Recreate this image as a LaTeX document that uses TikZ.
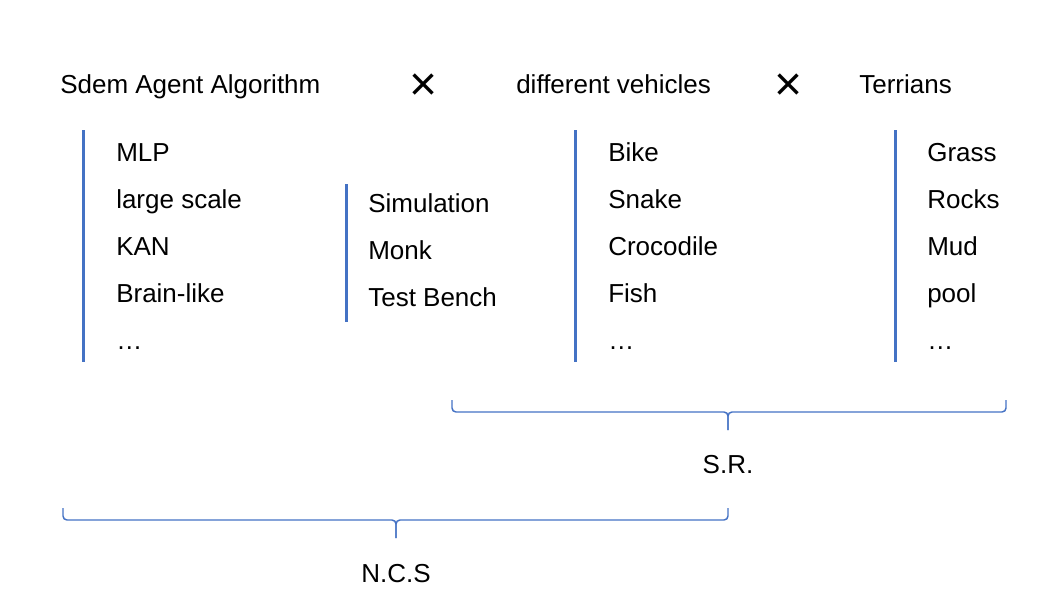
\documentclass[tikz,border=0pt]{standalone}
\usepackage{fontspec}
\setmainfont{Liberation Sans}
\usetikzlibrary{positioning}
\definecolor{barblue}{RGB}{68,114,196}
\tikzset{x=0.75pt, y=-0.75pt,
head/.style={ % Column titles
anchor=base west,
inner sep=0pt,
font=\fontsize{19.5}{23}\selectfont},
item/.style={ % Entries of a list
anchor=base west,
inner sep=0pt,
font=\fontsize{19.5}{23}\selectfont},
times/.style={ % Product sign
inner sep=0pt,
font=\fontsize{36}{40}\selectfont},
bar/.style={ % Line in front of a list
draw=barblue,
line width=2.25pt},
brace/.style={ % Grouping brace
draw=barblue,
line width=1.1pt,
rounded corners=3pt}}

\begin{document}
\begin{tikzpicture}
	\useasboundingbox (0,0) rectangle (1059,614);
	% titles
	\node[head] (algo) at (60,93) {Sdem Agent Algorithm};
	\node[times] (x1) at (424,87) {×};
	\node[head] (vehicles) at (516,93) {different vehicles};
	\node[times] (x2) at (789,87) {×};
	\node[head] (terrains) at (859,93) {Terrians};
	% algorithms
	\node[item] (mlp) at (116,161) {MLP};
	\node[item] (large) at (116,208) {large scale};
	\node[item] (kan) at (116,255) {KAN};
	\node[item] (brain) at (116,302) {Brain-like};
	\node[item] (algodots) at (116,349) {…};
	\node[item] (sim) at (368,212) {Simulation};
	\node[item] (monk) at (368,259) {Monk};
	\node[item] (bench) at (368,306) {Test Bench};
	% vehicles
	\node[item] (bike) at (608,161) {Bike};
	\node[item] (snake) at (608,208) {Snake};
	\node[item] (croc) at (608,255) {Crocodile};
	\node[item] (fish) at (608,302) {Fish};
	\node[item] (vehdots) at (608,349) {…};
	% terrains
	\node[item] (grass) at (927,161) {Grass};
	\node[item] (rocks) at (927,208) {Rocks};
	\node[item] (mud) at (927,255) {Mud};
	\node[item] (pool) at (927,302) {pool};
	\node[item] (terdots) at (927,349) {…};
	% bars
	\draw[bar] (83,130) -- (83,362);
	\draw[bar] (346,184) -- (346,322);
	\draw[bar] (575,130) -- (575,362);
	\draw[bar] (895,130) -- (895,362);
	% braces
	\coordinate (srl) at (452,400);
	\coordinate (srr) at (1006,400);
	\coordinate (srmid) at (728,412);
	\coordinate (srtip) at (728,430);
	\draw[brace] (srl) |- (srmid) -- (srtip);
	\draw[brace] (srr) |- (srmid) -- (srtip);
	\node[item, anchor=base] (sr) at (728,473) {S.R.};
	\coordinate (ncl) at (63,508);
	\coordinate (ncr) at (728,508);
	\coordinate (ncmid) at (396,520);
	\coordinate (nctip) at (396,538);
	\draw[brace] (ncl) |- (ncmid) -- (nctip);
	\draw[brace] (ncr) |- (ncmid) -- (nctip);
	\node[item, anchor=base] (ncs) at (396,582) {N.C.S};
\end{tikzpicture}
\end{document}
